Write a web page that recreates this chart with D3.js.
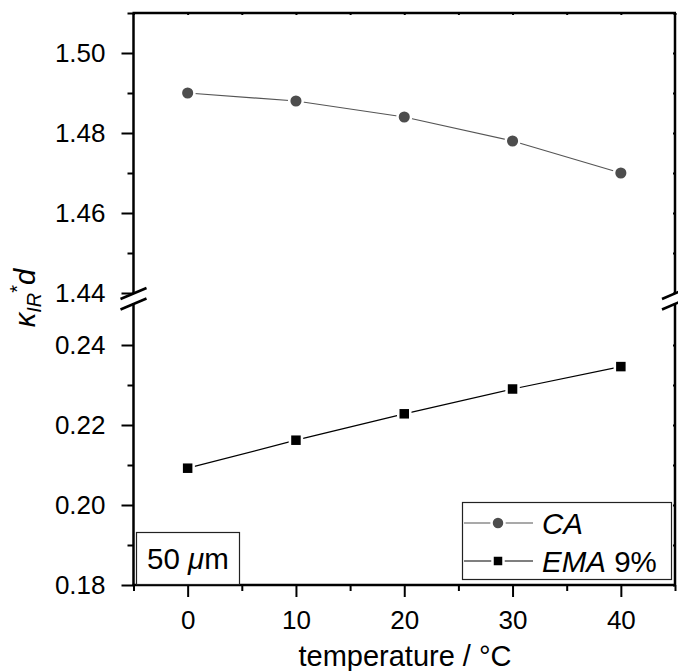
<!DOCTYPE html>
<html>
<head>
<meta charset="utf-8">
<script src="https://cdn.jsdelivr.net/npm/d3@7"></script>
<style>
  body { margin: 0; background: #fff; }
  text { font-family: "Liberation Sans", Arial, sans-serif; fill: #000; }
</style>
</head>
<body>
<div id="chart-wrapper"></div>
<script>
//////////////////////////////////////////////////
/////////////////// Data /////////////////////////
//////////////////////////////////////////////////

const temps = [0, 10, 20, 30, 40]
const caValues = [1.490, 1.488, 1.484, 1.478, 1.470]
const emaValues = [0.2092, 0.2162, 0.2228, 0.2290, 0.2346]
const seriesNames = ["CA", "EMA"]

const xMajorTicks = [0, 10, 20, 30, 40]
const xMinorTicks = [-5, 5, 15, 25, 35, 45]
const yUpperMajor = [1.44, 1.46, 1.48, 1.50]
const yUpperMinor = [1.45, 1.47, 1.49, 1.51]
const yLowerMajor = [0.18, 0.20, 0.22, 0.24]
const yLowerMinor = [0.19, 0.21, 0.23]

//////////////////////////////////////////////////
/////////////////// Constants ////////////////////
//////////////////////////////////////////////////

const width = 678
const height = 671
const plot = {left: 133.5, right: 675, top: 13, bottom: 585}
const breakTop = 293     // y of 1.44
const breakBottom = 305  // y of 0.25
const tickFont = 26
const caColour = "#4d4d4d"

const svg = d3.select("#chart-wrapper")
  .append("svg")
    .attr("width", width)
    .attr("height", height)
const g = svg.append("g")

/// Scales ///
const xScale = d3.scaleLinear().domain([-5, 45]).range([plot.left, plot.right])
const yUpper = d3.scaleLinear().domain([1.44, 1.51]).range([breakTop, plot.top])
const yLower = d3.scaleLinear().domain([0.18, 0.25]).range([plot.bottom, breakBottom])

/// Axes ///
const styleAxis = sel => sel
  .call(s => s.select(".domain").remove())
  .call(s => s.selectAll(".tick line").attr("stroke", "#000").attr("stroke-width", 2))
  .call(s => s.selectAll(".tick text").style("font-size", tickFont + "px").attr("fill", "#000"))

const fmt = d3.format(".2f")

// left, upper part
g.append("g").attr("transform", `translate(${plot.left},0)`)
  .call(d3.axisLeft(yUpper).tickValues(yUpperMajor).tickFormat(fmt).tickSize(12).tickPadding(16).tickSizeOuter(0))
  .call(styleAxis)
g.append("g").attr("transform", `translate(${plot.left},0)`)
  .call(d3.axisLeft(yUpper).tickValues(yUpperMinor).tickFormat("").tickSize(6).tickSizeOuter(0))
  .call(styleAxis)
// left, lower part
g.append("g").attr("transform", `translate(${plot.left},0)`)
  .call(d3.axisLeft(yLower).tickValues(yLowerMajor).tickFormat(fmt).tickSize(12).tickPadding(16).tickSizeOuter(0))
  .call(styleAxis)
g.append("g").attr("transform", `translate(${plot.left},0)`)
  .call(d3.axisLeft(yLower).tickValues(yLowerMinor).tickFormat("").tickSize(6).tickSizeOuter(0))
  .call(styleAxis)

// bottom
g.append("g").attr("transform", `translate(0,${plot.bottom})`)
  .call(d3.axisBottom(xScale).tickValues(xMajorTicks).tickFormat(d3.format("d")).tickSize(12).tickPadding(14).tickSizeOuter(0))
  .call(styleAxis)
g.append("g").attr("transform", `translate(0,${plot.bottom})`)
  .call(d3.axisBottom(xScale).tickValues(xMinorTicks).tickFormat("").tickSize(6).tickSizeOuter(0))
  .call(styleAxis)

// top and right mirror axes, tiny inward ticks
g.append("g").attr("transform", `translate(0,${plot.top})`)
  .call(d3.axisBottom(xScale).tickValues(xMajorTicks.concat(xMinorTicks)).tickFormat("").tickSize(2).tickSizeOuter(0))
  .call(styleAxis)
g.append("g").attr("transform", `translate(${plot.right},0)`)
  .call(d3.axisLeft(yUpper).tickValues(yUpperMajor.concat(yUpperMinor)).tickFormat("").tickSize(2).tickSizeOuter(0))
  .call(styleAxis)
g.append("g").attr("transform", `translate(${plot.right},0)`)
  .call(d3.axisLeft(yLower).tickValues(yLowerMajor.concat(yLowerMinor)).tickFormat("").tickSize(2).tickSizeOuter(0))
  .call(styleAxis)

/// Frame with broken left/right axes ///
const frame = g.append("g").attr("stroke", "#000").attr("stroke-width", 2.5).attr("fill", "none")
frame.append("line").attr("x1", plot.left - 1).attr("x2", plot.right + 1).attr("y1", plot.top).attr("y2", plot.top)
frame.append("line").attr("x1", plot.left - 1).attr("x2", plot.right + 1).attr("y1", plot.bottom).attr("y2", plot.bottom)
;[plot.left, plot.right].forEach(x => {
  frame.append("line").attr("x1", x).attr("x2", x).attr("y1", plot.top).attr("y2", breakTop)
  frame.append("line").attr("x1", x).attr("x2", x).attr("y1", breakBottom - 2).attr("y2", plot.bottom)
  // break slashes
  ;[breakTop + 0.5, breakBottom - 1].forEach(y => {
    frame.append("line")
      .attr("x1", x - 13).attr("y1", y + 5.5)
      .attr("x2", x + 13).attr("y2", y - 5.5)
  })
})

/// Series ///
const caData = temps.map((t, i) => ({x: t, y: caValues[i]}))
const emaData = temps.map((t, i) => ({x: t, y: emaValues[i]}))

const caLine = d3.line(d => xScale(d.x), d => yUpper(d.y))
const emaLine = d3.line(d => xScale(d.x), d => yLower(d.y))

g.append("path").datum(caData)
  .attr("d", caLine).attr("fill", "none").attr("stroke", "#555").attr("stroke-width", 1.2)
g.append("path").datum(emaData)
  .attr("d", emaLine).attr("fill", "none").attr("stroke", "#000").attr("stroke-width", 1.2)

g.selectAll(".ca-point").data(caData).join("circle")
  .attr("class", "ca-point")
  .attr("cx", d => xScale(d.x)).attr("cy", d => yUpper(d.y)).attr("r", 6.8)
  .attr("fill", caColour).attr("stroke", "#fff").attr("stroke-width", 2.5)

g.selectAll(".ema-point").data(emaData).join("rect")
  .attr("class", "ema-point")
  .attr("x", d => xScale(d.x) - 6).attr("y", d => yLower(d.y) - 6)
  .attr("width", 12).attr("height", 12)
  .attr("fill", "#000").attr("stroke", "#fff").attr("stroke-width", 2.5)

/// Legend ///
const legend = g.append("g")
legend.append("rect")
  .attr("x", 462.5).attr("y", 502.5).attr("width", 209).attr("height", 77)
  .attr("fill", "#fff").attr("stroke", "#222").attr("stroke-width", 1.2)

const legendRows = [
  {name: seriesNames[0], y: 523, colour: "#555", marker: "circle"},
  {name: seriesNames[1], y: 561, colour: "#000", marker: "square"}
]
legendRows.forEach(r => {
  legend.append("line").attr("x1", 464).attr("x2", 533).attr("y1", r.y).attr("y2", r.y)
    .attr("stroke", r.colour).attr("stroke-width", 1.2)
  if (r.marker === "circle") {
    legend.append("circle").attr("cx", 498).attr("cy", r.y).attr("r", 6.5)
      .attr("fill", caColour).attr("stroke", "#fff").attr("stroke-width", 2.5)
  } else {
    legend.append("rect").attr("x", 492.5).attr("y", r.y - 5.5).attr("width", 11).attr("height", 11)
      .attr("fill", "#000").attr("stroke", "#fff").attr("stroke-width", 2.5)
  }
  const t = legend.append("text").attr("x", 542).attr("y", r.y + 10.5).style("font-size", "29.5px")
  t.append("tspan").style("font-style", "italic").text(r.name)
  if (r.name === "EMA") t.append("tspan").text(" 9%")
})

/// Thickness label ///
g.append("rect")
  .attr("x", 136.5).attr("y", 532.5).attr("width", 103).attr("height", 52)
  .attr("fill", "#fff").attr("stroke", "#222").attr("stroke-width", 1.2)
const thick = g.append("text").attr("x", 147).attr("y", 568.5).style("font-size", "29.5px")
thick.append("tspan").text("50 ")
thick.append("tspan").style("font-style", "italic").text("μ")
thick.append("tspan").text("m")

/// Axis titles ///
g.append("text")
  .attr("x", 405).attr("y", 666)
  .attr("text-anchor", "middle").style("font-size", "29px")
  .text("temperature / °C")

const yTitle = g.append("text")
  .attr("transform", "translate(35,298) rotate(-90)")
  .attr("text-anchor", "middle").style("font-size", "29px")
yTitle.append("tspan").style("font-style", "italic").text("κ")
yTitle.append("tspan").style("font-style", "italic").style("font-size", "20px").attr("dy", 6).text("IR")
yTitle.append("tspan").style("font-size", "20px").attr("dy", -17).text("*")
yTitle.append("tspan").style("font-style", "italic").attr("dy", 11).text("d")
</script>
</body>
</html>
